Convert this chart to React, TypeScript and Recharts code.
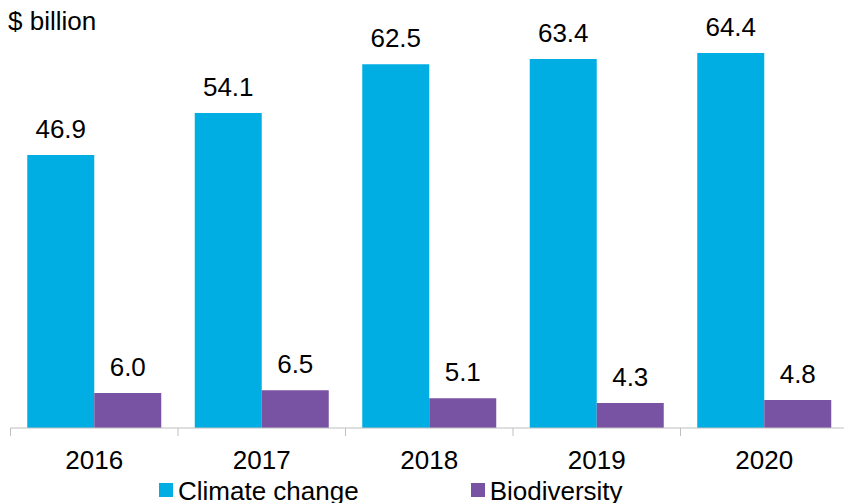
import React from "react";
import { BarChart, Bar, XAxis, YAxis, LabelList } from "recharts";

const years = ["2016", "2017", "2018", "2019", "2020"];
const climateChange = [46.9, 54.1, 62.5, 63.4, 64.4];
const biodiversity = [6.0, 6.5, 5.1, 4.3, 4.8];
const seriesNames = ["Climate change", "Biodiversity"];
const seriesColors = ["#00AEE3", "#7853A3"];
const unitLabel = "$ billion";

const data = years.map((y, i) => ({
  year: y,
  climate: climateChange[i],
  bio: biodiversity[i],
}));

const FONT = '"Liberation Sans", Arial, sans-serif';
const AXIS_COLOR = "#BFBFBF";

const TICK_MARGIN = 22.5;
const TICK_LEN = 8;

const CategoryTick = (props: any) => {
  const { x, y, payload } = props;
  const half = payload && typeof payload.offset === "number" ? payload.offset : 83.75;
  const axisY = y - TICK_MARGIN;
  const bx = x - half;
  return (
    <g>
      <line x1={bx} y1={axisY} x2={bx} y2={axisY + TICK_LEN} stroke={AXIS_COLOR} strokeWidth={1} />
      <text x={x} y={y} dy="0.71em" textAnchor="middle" fontSize={26} fontFamily={FONT} fill="#000">
        {payload.value}
      </text>
    </g>
  );
};

const fmt = (v: any) => Number(v).toFixed(1);

export default function App() {
  return (
    <div style={{ position: "relative", width: 844, height: 503, overflow: "hidden", fontFamily: FONT }}>
      <style>{"body{margin:0;overflow:hidden;}"}</style>
      <div
        style={{
          position: "absolute",
          left: 8,
          top: 7.5,
          fontSize: 26,
          lineHeight: 1,
          color: "#000",
          whiteSpace: "nowrap",
        }}
      >
        {unitLabel}
      </div>
      <div style={{ position: "absolute", left: 0, top: 0 }}>
        <BarChart
          width={850}
          height={503}
          data={data}
          margin={{ top: 20.5, right: 2, left: 10.5, bottom: 45 }}
          barCategoryGap="10%"
          barGap={0}
        >
          <XAxis
            dataKey="year"
            height={30}
            tickLine={false}
            tickSize={0}
            tickMargin={TICK_MARGIN}
            axisLine={{ stroke: AXIS_COLOR, strokeWidth: 1 }}
            tick={<CategoryTick />}
            interval={0}
          />
          <YAxis hide domain={[0, 70]} />
          <Bar dataKey="climate" name={seriesNames[0]} fill={seriesColors[0]} isAnimationActive={false}>
            <LabelList
              dataKey="climate"
              position="top"
              offset={17}
              formatter={fmt}
              fill="#000"
              fontSize={26}
              fontFamily={FONT}
            />
          </Bar>
          <Bar dataKey="bio" name={seriesNames[1]} fill={seriesColors[1]} isAnimationActive={false}>
            <LabelList
              dataKey="bio"
              position="top"
              offset={17}
              formatter={fmt}
              fill="#000"
              fontSize={26}
              fontFamily={FONT}
            />
          </Bar>
        </BarChart>
      </div>
      <div
        style={{
          position: "absolute",
          left: 159,
          top: 478,
          display: "flex",
          alignItems: "flex-start",
          gap: 112,
          fontSize: 26,
          lineHeight: 1,
          color: "#000",
          whiteSpace: "nowrap",
        }}
      >
        {seriesNames.map((n, i) => (
          <div key={n} style={{ display: "flex", alignItems: "flex-start" }}>
            <div style={{ width: 14, height: 14, marginTop: 5.3, background: seriesColors[i], marginRight: 5 }} />
            <span>{n}</span>
          </div>
        ))}
      </div>
    </div>
  );
}
